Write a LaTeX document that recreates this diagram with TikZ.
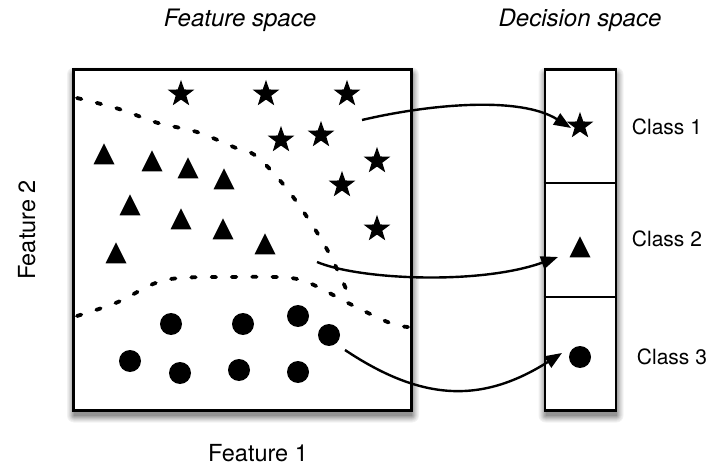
\documentclass[tikz,border=0pt]{standalone}
\usepackage{fontspec}
\setmainfont{TeX Gyre Heros}
\usetikzlibrary{shapes.geometric,arrows.meta,calc}
\tikzset{
  panel/.style={draw=black, line width=2.8pt, fill=white, inner sep=0pt},
  divider/.style={line width=2pt},
  starmark/.style={star, star points=5, star point ratio=2.5, fill=black,
    inner sep=0pt, minimum size=28pt},
  trimark/.style={isosceles triangle, isosceles triangle stretches,
    shape border rotate=90, fill=black, inner sep=0pt,
    minimum width=21pt, minimum height=21pt},
  dotmark/.style={circle, fill=black, inner sep=0pt, minimum size=22pt},
  boundary/.style={line width=3.8pt, line cap=round,
    dash pattern=on 4.5pt off 15.8pt},
  mapsto/.style={line width=2.4pt, -{Triangle[length=17pt,width=13pt]}},
  axislabel/.style={font=\fontsize{23.5}{28}\selectfont, anchor=base, inner sep=0pt},
  title/.style={font=\fontsize{24}{28}\selectfont\itshape, anchor=base, inner sep=0pt},
  classlabel/.style={font=\fontsize{21}{25}\selectfont, anchor=base, inner sep=0pt},
}
\begin{document}
\begin{tikzpicture}[x=1pt,y=-1pt]
\useasboundingbox (0,0) rectangle (710,465);

% soft shadows under the panels, lightest ring first
\foreach \xa/\xb in {73.5/411.5, 545/616}
  \foreach \k/\g in {7/5, 6/9, 5/14, 4/19, 3/25, 2/31, 1/37, 0/42}
    \fill[black!\g, rounded corners=\k pt]
      (\xa+0.5-\k, 74.5-\k) rectangle (\xb+0.5+\k, 415.5+\k);

% the two panels
\node[panel, minimum width=338pt, minimum height=341pt] (feat) at (242.5,240) {};
\node[panel, minimum width=71pt, minimum height=341pt] (dec) at (580.5,240) {};
\draw[divider] ($(dec.north west)!1/3!(dec.south west)$) -- ($(dec.north east)!1/3!(dec.south east)$);
\draw[divider] ($(dec.north west)!2/3!(dec.south west)$) -- ($(dec.north east)!2/3!(dec.south east)$);

% class boundaries
\draw[boundary] plot[smooth, tension=0.6] coordinates
  {(77,98) (119,109) (158,123) (197,132) (236,148) (256,156) (283,184) (307,217) (329,253) (347,291)};
\draw[boundary] plot[smooth, tension=0.6] coordinates
  {(77,316) (118,302) (153,284) (180,278) (233,277) (276,277) (297,279) (316,286) (352,305) (390,323) (408,327)};

% samples: stars
\foreach \x/\y [count=\i] in {181/94, 266/94, 347/94, 281/140, 321/135, 377/161, 342/185, 377/229}
  \node[starmark] (s\i) at (\x,\y) {};
% samples: triangles
\foreach \x/\y [count=\i] in {104/158, 152/165, 188/172, 224/183, 130/209, 181/223, 223/233, 265/248, 116/257}
  \node[trimark] (t\i) at (\x,\y) {};
% samples: dots
\foreach \x/\y [count=\i] in {171/324, 243/324, 298/316, 329/335, 130/361, 180/373, 239/370, 298/372}
  \node[dotmark] (c\i) at (\x,\y) {};

% class symbols in the decision panel
\node[starmark] (dstar) at (580,126) {};
\node[trimark] (dtri) at (580,251) {};
\node[dotmark] (ddot) at (580,357) {};

% mappings
\coordinate (a1) at (362,120);
\coordinate (a2) at (317,262);
\coordinate (a3) at (345,350);
\coordinate (e1) at ($(dstar)+(-9,2)$);
\coordinate (e2) at ($(dtri)+(-22,6)$);
\coordinate (e3) at ($(ddot)+(-18,-4)$);
\draw[mapsto] (a1) .. controls (430,104) and (520,96) .. (e1);
\draw[mapsto] (a2) .. controls (360,280) and (480,285) .. (e2);
\draw[mapsto] (a3) .. controls (420,400) and (480,405) .. (e3);

% labels
\node[title] (tfeat) at (240,27) {Feature space};
\node[title] (tdec) at (580,27) {Decision space};
\node[axislabel] (x1) at (258,461) {Feature 1};
\node[axislabel, rotate=90] (x2) at (35,230) {Feature 2};
\node[classlabel] (k1) at (667,135) {Class 1};
\node[classlabel] (k2) at (667,247) {Class 2};
\node[classlabel] (k3) at (672,364) {Class 3};
\end{tikzpicture}
\end{document}
